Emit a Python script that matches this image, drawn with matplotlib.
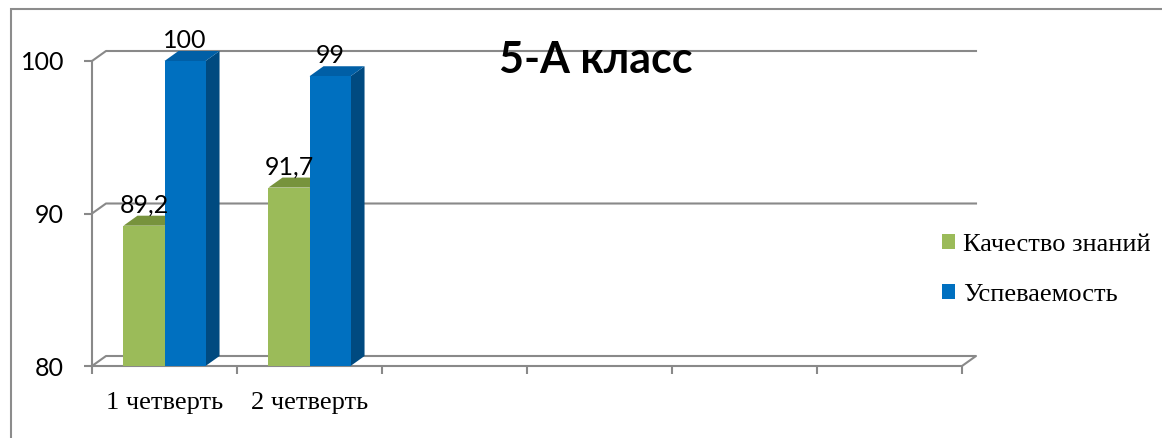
import numpy as np
import matplotlib
matplotlib.use("Agg")
import matplotlib.pyplot as plt
from matplotlib.patches import Polygon, Rectangle, Patch

# данные
quarters = ["1 четверть", "2 четверть", "", "", "", ""]
quality = [89.2, 91.7]      # Качество знаний
progress = [100, 99]        # Успеваемость
quality_labels = ["89,2", "91,7"]
progress_labels = ["100", "99"]
yticks = [80, 90, 100]

W, H, DPI = 1162, 438, 100
fig = plt.figure(figsize=(W / DPI, H / DPI), dpi=DPI)
ax = fig.add_axes([92 / W, 72 / H, 870 / W, 305 / H])
ax.set_xlim(0, len(quarters))
ax.set_ylim(80, 100)

# смещение "глубины" 3D в пикселях -> в единицах данных
DX, DY = 14, 10
ddx = DX * len(quarters) / (870)
ddy = DY * 20 / (305)

grid_c = "#898989"
lw = 1.5

# задняя стенка / линии сетки
for y in yticks[1:]:
    ax.plot([0, ddx, len(quarters) + ddx], [y, y + ddy, y + ddy], color=grid_c, lw=lw, clip_on=False, zorder=1)
n = len(quarters)
ax.plot([0, n, n + ddx, ddx, 0], [80, 80, 80 + ddy, 80 + ddy, 80], color=grid_c, lw=lw, clip_on=False, zorder=1)
ax.plot([0, 0], [80, 100], color=grid_c, lw=lw, clip_on=False, zorder=1)

bw = 0.283
xs = np.arange(len(quality)) + 0.5
green, green_top = "#9BBB59", "#77933C"
blue, blue_side, blue_top = "#0070C0", "#004A80", "#005FA6"


def draw_bar(x0, v, front, side, top):
    x1 = x0 + bw
    ax.add_patch(Polygon([(x1, 80), (x1, v), (x1 + ddx, v + ddy), (x1 + ddx, 80 + ddy)],
                         closed=True, fc=side, ec="none", clip_on=False, zorder=2))
    ax.add_patch(Polygon([(x0, v), (x1, v), (x1 + ddx, v + ddy), (x0 + ddx, v + ddy)],
                         closed=True, fc=top, ec="none", clip_on=False, zorder=2))
    ax.bar(x0, v - 80, width=bw, bottom=80, align="edge", color=front, zorder=3, clip_on=False)


for i in range(len(quality)):
    draw_bar(xs[i] - bw, quality[i], green, green_top, green_top)
    draw_bar(xs[i], progress[i], blue, blue_side, blue_top)

lab_font = dict(family=["Lato", "DejaVu Sans"], fontsize=18, color="black")
for i in range(len(quality)):
    ax.text(xs[i] - bw / 2, quality[i] + ddy - 0.05, quality_labels[i], ha="center", va="bottom", **lab_font, zorder=5)
    ax.text(xs[i] + bw / 2, progress[i] + ddy - 0.05, progress_labels[i], ha="center", va="bottom", **lab_font, zorder=5)

# оси
for s in ax.spines.values():
    s.set_visible(False)
ax.set_yticks(yticks)
ax.set_yticklabels([str(t) for t in yticks], family=["Lato", "DejaVu Sans"], fontsize=18)
ax.set_xticks(range(len(quarters) + 1))
ax.set_xticklabels([])
ax.set_xticks(np.arange(len(quarters)) + 0.5, minor=True)
ax.set_xticklabels(quarters, minor=True, family=["Liberation Serif"], fontsize=19)
ax.tick_params(axis="y", length=6, width=lw, color=grid_c, pad=14)
ax.tick_params(axis="x", which="major", length=6, width=lw, color=grid_c)
ax.tick_params(axis="x", which="minor", length=0, pad=19)

fig.text(596 / W, 1 - 60 / H, "5-А класс", ha="center", va="center",
         family=["Lato", "DejaVu Sans"], fontweight="bold", fontsize=31, zorder=6)

handles = [Patch(fc=green, ec="none", label="Качество знаний"),
           Patch(fc=blue, ec="none", label="Успеваемость")]
fig.legend(handles=handles, loc="center left", bbox_to_anchor=(918 / W, 1 - 270 / H),
           frameon=False, prop=dict(family="Liberation Serif", size=19),
           handlelength=0.5, handleheight=0.5, handletextpad=0.3, labelspacing=1.05)

# рамка диаграммы
fig.patches.append(Rectangle((10.5 / W, -0.1), 1.2, 1.1 - 9.5 / H, transform=fig.transFigure,
                             fill=False, ec="#8c8c8c", lw=1.5))

fig.savefig("out.png", dpi=DPI)
